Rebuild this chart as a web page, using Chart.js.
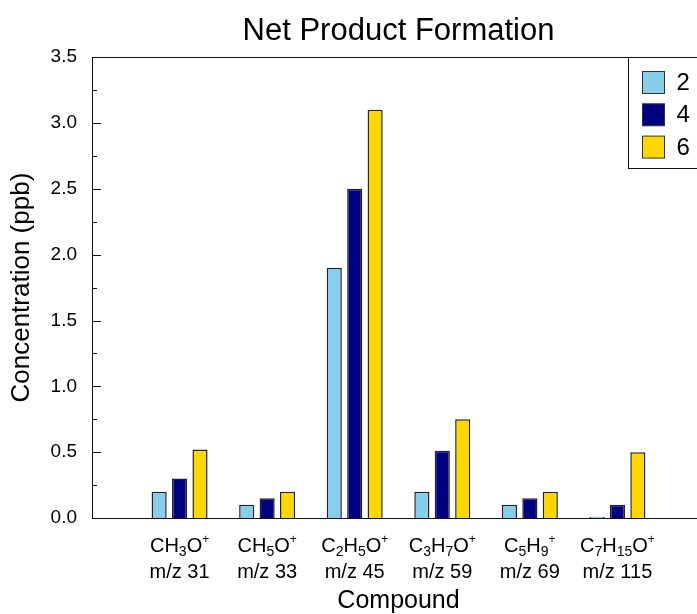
<!DOCTYPE html>
<html>
<head>
<meta charset="utf-8">
<title>Net Product Formation</title>
<script src="https://cdn.jsdelivr.net/npm/chart.js@4.4.1/dist/chart.umd.min.js"></script>
<style>
  html, body { margin: 0; padding: 0; background: #fff; overflow: hidden; }
  canvas { display: block; }
</style>
</head>
<body>
<canvas id="chart" width="706" height="614"></canvas>
<script>
// Compounds (formula + mass-to-charge ratio) along the x axis
const formulas = ['CH3O+', 'CH5O+', 'C2H5O+', 'C3H7O+', 'C5H9+', 'C7H15O+'];
const massLabels = ['m/z 31', 'm/z 33', 'm/z 45', 'm/z 59', 'm/z 69', 'm/z 115'];

// Series names shown in the legend
const seriesNames = ['2', '4', '6'];

// Net concentrations (ppb) for each series
const series2 = [0.20, 0.10, 1.90, 0.20, 0.10, 0.01];
const series4 = [0.30, 0.15, 2.50, 0.51, 0.15, 0.10];
const series6 = [0.52, 0.20, 3.10, 0.75, 0.20, 0.50];

// Y axis range and tick spacing
const yMin = 0;
const yMax = 3.5;
const yMinorStep = 0.25;
const yMajorStep = 0.5;

const FONT = "'Liberation Sans', Arial, Helvetica, sans-serif";
const INK = '#000';
const colors = ['#87CEEB', '#000080', '#FFD700'];

function toPoints(values) {
  return values.map((v, i) => ({ x: i + 1, y: v }));
}

// Split a formula into plain / subscript / superscript pieces
function formulaPieces(f) {
  const out = [];
  const re = /([A-Za-z]+)|(\d+)|(\+)/g;
  let m;
  while ((m = re.exec(f))) {
    if (m[1]) out.push({ text: m[1], kind: 'plain' });
    else if (m[2]) out.push({ text: m[2], kind: 'sub' });
    else out.push({ text: '+', kind: 'sup' });
  }
  return out;
}

const pieceFont = {
  plain: '20px ' + FONT,
  sub: '14px ' + FONT,
  sup: '12px ' + FONT
};
const pieceShift = { plain: 0, sub: 4, sup: -9 };

const framePlugin = {
  id: 'frameAndLabels',
  afterDatasetsDraw(chart) {
    const ctx = chart.ctx;
    const area = chart.chartArea;
    const yScale = chart.scales.y;
    const xScale = chart.scales.x;

    ctx.save();
    // plot frame
    ctx.strokeStyle = '#111';
    ctx.lineWidth = 1;
    ctx.strokeRect(Math.round(area.left) + 0.5, Math.round(area.top) + 0.5,
                   Math.round(area.right - area.left), Math.round(area.bottom - area.top));

    // inward tick marks on the y axis (long at labelled values)
    yScale.ticks.forEach((t, i) => {
      const y = Math.round(yScale.getPixelForTick(i)) + 0.5;
      const ratio = t.value / yMajorStep;
      const major = Math.abs(ratio - Math.round(ratio)) < 1e-6;
      const len = major ? 9 : 5;
      ctx.beginPath();
      ctx.moveTo(Math.round(area.left), y);
      ctx.lineTo(Math.round(area.left) + len, y);
      ctx.stroke();
    });

    // two-line category labels with chemical sub/superscripts
    ctx.fillStyle = INK;
    ctx.textBaseline = 'alphabetic';
    ctx.textAlign = 'left';
    formulas.forEach((f, i) => {
      const cx = xScale.getPixelForValue(i + 1);
      const pieces = formulaPieces(f);
      let total = 0;
      pieces.forEach(p => { ctx.font = pieceFont[p.kind]; p.w = ctx.measureText(p.text).width; total += p.w; });
      let x = cx - total / 2;
      const base1 = area.bottom + 34;
      pieces.forEach(p => {
        ctx.font = pieceFont[p.kind];
        ctx.fillText(p.text, x, base1 + pieceShift[p.kind]);
        x += p.w;
      });
      ctx.font = '20px ' + FONT;
      ctx.textAlign = 'center';
      ctx.fillText(massLabels[i], cx, area.bottom + 60);
      ctx.textAlign = 'left';
    });

    // boxed legend in the upper right of the plot
    const boxLeft = Math.round(area.right - 77) + 0.5;
    const boxTop = Math.round(area.top) + 0.5;
    const boxBottom = boxTop + 111;
    ctx.fillStyle = '#fff';
    ctx.fillRect(boxLeft, boxTop, area.right - boxLeft + 2, boxBottom - boxTop);
    ctx.strokeStyle = '#111';
    ctx.strokeRect(boxLeft, boxTop, area.right - boxLeft + 2, boxBottom - boxTop);
    chart.data.datasets.forEach((ds, k) => {
      const sy = boxTop + 14 + k * 32.3;
      const sx = boxLeft + 14;
      ctx.fillStyle = ds.backgroundColor;
      ctx.fillRect(sx, sy, 22, 22);
      ctx.strokeStyle = '#333';
      ctx.strokeRect(sx, sy, 22, 22);
      ctx.fillStyle = INK;
      ctx.font = '24px ' + FONT;
      ctx.textBaseline = 'middle';
      ctx.fillText(ds.label, sx + 34, sy + 12);
    });
    ctx.restore();
  }
};

const datasets = [series2, series4, series6].map((vals, k) => ({
  label: seriesNames[k],
  data: toPoints(vals),
  backgroundColor: colors[k],
  borderColor: '#222',
  borderWidth: 1.5,
  categoryPercentage: 0.7,
  barPercentage: 0.74
}));

Chart.defaults.font.family = FONT;
Chart.defaults.color = INK;

new Chart(document.getElementById('chart'), {
  type: 'bar',
  data: { datasets },
  options: {
    responsive: false,
    animation: false,
    devicePixelRatio: 1,
    layout: { padding: { top: 0, right: 1, left: 0, bottom: 0 } },
    plugins: {
      legend: { display: false },
      tooltip: { enabled: false },
      title: {
        display: true,
        text: 'Net Product Formation',
        fullSize: false,
        color: INK,
        font: { size: 31, weight: 'normal', family: FONT },
        padding: { top: 13, bottom: 7 }
      }
    },
    scales: {
      x: {
        type: 'linear',
        offset: false,
        min: 0,
        max: formulas.length + 1,
        grid: { display: false, offset: false },
        border: { display: false },
        ticks: { display: false },
        afterBuildTicks(scale) {
          scale.ticks = formulas.map((_, i) => ({ value: i + 1 }));
        },
        afterFit(scale) { scale.height = 96; },
        title: {
          display: true,
          text: 'Compound',
          color: INK,
          font: { size: 25, family: FONT, lineHeight: 1 },
          padding: { top: 0, bottom: 0 }
        }
      },
      y: {
        min: yMin,
        max: yMax,
        grid: { display: false, drawTicks: false },
        border: { display: false },
        ticks: {
          stepSize: yMinorStep,
          autoSkip: false,
          padding: 15,
          color: INK,
          font: { size: 19, family: FONT },
          callback(value) {
            const r = value / yMajorStep;
            return Math.abs(r - Math.round(r)) < 1e-6 ? value.toFixed(1) : '';
          }
        },
        afterFit(scale) { scale.width = 92; },
        title: {
          display: true,
          text: 'Concentration (ppb)',
          color: INK,
          font: { size: 26, family: FONT },
          padding: { top: 6, bottom: 0 }
        }
      }
    }
  },
  plugins: [framePlugin]
});
</script>
</body>
</html>
